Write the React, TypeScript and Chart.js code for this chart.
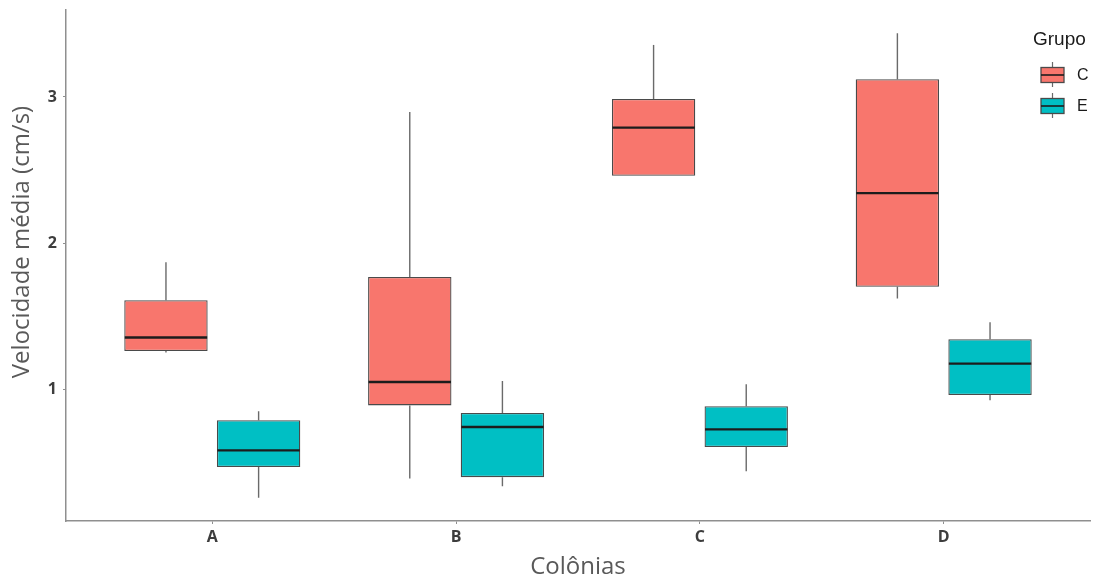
import React, { useEffect, useRef } from 'react';
import { Chart, registerables } from 'chart.js';

Chart.register(...registerables);

// ---- Data ----
const categories = ['A', 'B', 'C', 'D'];
const groupNames = ['C', 'E'];
const groupColors = ['#F8766D', '#00BFC4'];

const cMin = [1.251, 0.39, 2.461, 1.621];
const cQ1 = [1.262, 0.89, 2.461, 1.701];
const cMedian = [1.354, 1.05, 2.79, 2.342];
const cQ3 = [1.61, 1.769, 2.986, 3.121];
const cMax = [1.87, 2.897, 3.356, 3.436];

const eMin = [0.258, 0.336, 0.44, 0.925];
const eQ1 = [0.468, 0.399, 0.605, 0.961];
const eMedian = [0.582, 0.742, 0.726, 1.176];
const eQ3 = [0.788, 0.838, 0.884, 1.342];
const eMax = [0.849, 1.057, 1.034, 1.459];

const yTickValues = [1, 2, 3];
const yAxisMin = 0.099;
const yAxisMax = 3.595;

const xTitle = 'Colônias';
const yTitle = 'Velocidade média (cm/s)';
const legendTitle = 'Grupo';

const stats = [
  { min: cMin, q1: cQ1, med: cMedian, q3: cQ3, max: cMax },
  { min: eMin, q1: eQ1, med: eMedian, q3: eQ3, max: eMax },
];

const OUTLINE = '#4a4a4a';
const WHISKER = '#6a6a6a';
const AXIS = '#8f8f8f';

const boxPlugin = {
  id: 'boxWhiskers',
  beforeDatasetsDraw(chart: any) {
    const ctx = chart.ctx;
    const yScale = chart.scales.y;
    ctx.save();
    ctx.strokeStyle = WHISKER;
    ctx.lineWidth = 1.4;
    stats.forEach((s, d) => {
      const meta = chart.getDatasetMeta(d);
      meta.data.forEach((el: any, i: number) => {
        const x = el.x;
        ctx.beginPath();
        ctx.moveTo(x, yScale.getPixelForValue(s.q3[i]));
        ctx.lineTo(x, yScale.getPixelForValue(s.max[i]));
        ctx.moveTo(x, yScale.getPixelForValue(s.q1[i]));
        ctx.lineTo(x, yScale.getPixelForValue(s.min[i]));
        ctx.stroke();
      });
    });
    ctx.restore();
  },
  afterDatasetsDraw(chart: any) {
    const ctx = chart.ctx;
    const yScale = chart.scales.y;
    ctx.save();
    ctx.strokeStyle = '#1c1c1c';
    ctx.lineWidth = 2.4;
    stats.forEach((s, d) => {
      const meta = chart.getDatasetMeta(d);
      meta.data.forEach((el: any, i: number) => {
        const y = yScale.getPixelForValue(s.med[i]);
        ctx.beginPath();
        ctx.moveTo(el.x - el.width / 2 + 0.5, y);
        ctx.lineTo(el.x + el.width / 2 - 0.5, y);
        ctx.stroke();
      });
    });
    ctx.restore();
  },
  afterDraw(chart: any) {
    const ctx = chart.ctx;
    const area = chart.chartArea;
    ctx.save();
    // y axis title
    ctx.translate(22, 242);
    ctx.rotate(-Math.PI / 2);
    ctx.font = '24px "Open Sans"';
    ctx.fillStyle = '#595959';
    ctx.textAlign = 'center';
    ctx.textBaseline = 'middle';
    ctx.fillText(yTitle, 0, 0);
    ctx.restore();

    // legend
    ctx.save();
    ctx.font = '19px "Liberation Sans"';
    ctx.fillStyle = '#1a1a1a';
    ctx.textAlign = 'left';
    ctx.textBaseline = 'middle';
    ctx.fillText(legendTitle, area.right - 57, 40);
    groupNames.forEach((g, k) => {
      const cy = 75 + k * 31;
      const x0 = area.right - 49;
      const w = 23;
      const xc = x0 + w / 2;
      ctx.strokeStyle = WHISKER;
      ctx.lineWidth = 1.2;
      ctx.beginPath();
      ctx.moveTo(xc, cy - 13);
      ctx.lineTo(xc, cy + 12);
      ctx.stroke();
      ctx.fillStyle = groupColors[k];
      ctx.fillRect(x0, cy - 7.5, w, 15);
      ctx.strokeStyle = OUTLINE;
      ctx.lineWidth = 1.3;
      ctx.strokeRect(x0, cy - 7.5, w, 15);
      ctx.strokeStyle = '#1c1c1c';
      ctx.lineWidth = 1.6;
      ctx.beginPath();
      ctx.moveTo(x0, cy);
      ctx.lineTo(x0 + w, cy);
      ctx.stroke();
      ctx.fillStyle = '#1a1a1a';
      ctx.font = '16px "Liberation Sans"';
      ctx.fillText(g, area.right - 13, cy + 1);
    });
    ctx.restore();
  },
};

export default function App() {
  const ref = useRef<HTMLCanvasElement>(null);
  useEffect(() => {
    if (!ref.current) return;
    const datasets = stats.map((s, d) => ({
      label: groupNames[d],
      data: categories.map((_, i) => ({ x: i, y: [s.q1[i], s.q3[i]] })),
      backgroundColor: groupColors[d],
      borderColor: OUTLINE,
      borderWidth: 1.3,
      borderSkipped: false,
      categoryPercentage: 0.76,
      barPercentage: 0.9,
    }));
    const chart = new Chart(ref.current, {
      type: 'bar',
      data: { datasets },
      plugins: [boxPlugin],
      options: {
        animation: false,
        responsive: false,
        layout: { padding: { left: 0, right: 8, top: 10, bottom: 0 } },
        plugins: { legend: { display: false }, tooltip: { enabled: false } },
        scales: {
          x: {
            type: 'linear',
            min: -0.6,
            max: 3.6,
            offset: false,
            afterBuildTicks: (s: any) => {
              s.ticks = categories.map((_, i) => ({ value: i }));
            },
            afterFit: (s: any) => {
              s.height = 62;
              s.paddingLeft = 0;
              s.paddingRight = 0;
            },
            ticks: {
              callback: (v: any) => categories[Math.round(v)],
              font: { family: 'Open Sans', size: 16, weight: 'bold' },
              color: '#3d3d3d',
              padding: 4,
              maxRotation: 0,
              autoSkip: false,
            },
            grid: { display: true, drawOnChartArea: false, drawTicks: true, tickLength: 3, color: AXIS, offset: false },
            border: { display: true, color: AXIS, width: 1.5 },
            title: {
              display: true,
              text: xTitle,
              font: { family: 'Open Sans', size: 24 },
              color: '#595959',
              padding: { top: 0, bottom: 1 },
            },
          },
          y: {
            type: 'linear',
            min: yAxisMin,
            max: yAxisMax,
            afterBuildTicks: (s: any) => {
              s.ticks = yTickValues.map((v) => ({ value: v }));
            },
            afterFit: (s: any) => {
              s.width = 66;
              s.paddingTop = 0;
              s.paddingBottom = 0;
            },
            ticks: {
              font: { family: 'Open Sans', size: 16, weight: 'bold' },
              color: '#3d3d3d',
              padding: 6,
            },
            grid: { display: true, drawOnChartArea: false, drawTicks: true, tickLength: 3, color: AXIS },
            border: { display: true, color: AXIS, width: 1.5 },
          },
        },
      },
    } as any);
    return () => chart.destroy();
  }, []);
  return (
    <div style={{ position: 'fixed', left: 0, top: 0, width: 1098, height: 583, background: '#fff' }}>
      <canvas ref={ref} width={1098} height={583} />
    </div>
  );
}
